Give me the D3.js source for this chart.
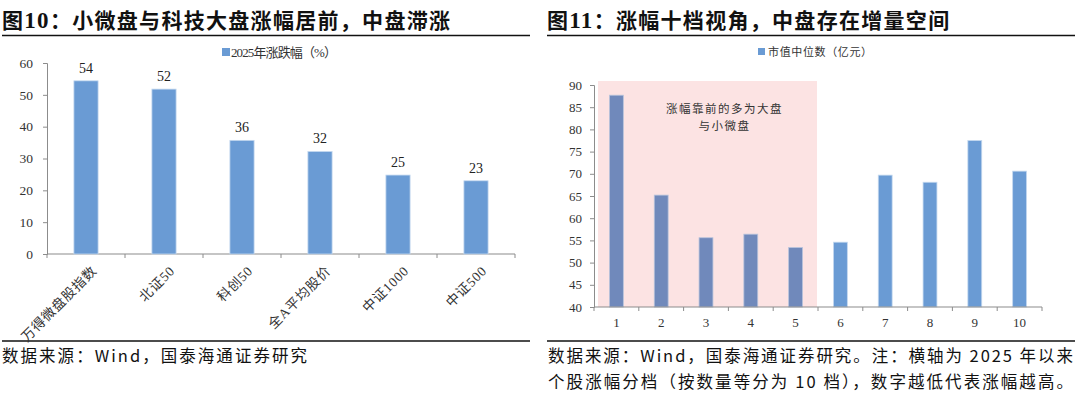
<!DOCTYPE html>
<html><head><meta charset="utf-8">
<script src="https://cdn.jsdelivr.net/npm/d3@7"></script>
<style>
body{margin:0;background:#fff;}
svg{display:block;}
</style></head>
<body>
<svg id="c" width="1080" height="393"></svg>
<script>
// ---- data ----
const leftTitle = "图10：小微盘与科技大盘涨幅居前，中盘滞涨";
const leftLegend = "2025年涨跌幅（%）";
const leftCats = ["万得微盘股指数","北证50","科创50","全A平均股价","中证1000","中证500"];
const leftVals = [54.4, 51.8, 35.7, 32.2, 24.8, 23.0];
const leftLabels = ["54","52","36","32","25","23"];
const leftTicks = [0,10,20,30,40,50,60];
const leftSource = "数据来源：Wind，国泰海通证券研究";

const rightTitle = "图11：涨幅十档视角，中盘存在增量空间";
const rightLegend = "市值中位数（亿元）";
const rightCats = ["1","2","3","4","5","6","7","8","9","10"];
const rightVals = [87.7, 65.2, 55.6, 56.4, 53.4, 54.6, 69.7, 68.1, 77.5, 70.6];
const rightTicks = [40,45,50,55,60,65,70,75,80,85,90];
const highlightCats = ["1","2","3","4","5"];
const noteLines = ["涨幅靠前的多为大盘","与小微盘"];
const rightSource = ["数据来源：Wind，国泰海通证券研究。注：横轴为 2025 年以来",
                     "个股涨幅分档（按数量等分为 10 档），数字越低代表涨幅越高。"];

const SERIF = "'Liberation Serif','Times New Roman','Noto Sans CJK SC',serif";
const CJK = "'Noto Sans CJK SC','Liberation Serif',sans-serif";
const BAR = "#6a9bd4", BAR_HL = "#7089bb", PINK = "#fce3e3", AX = "#8c8c8c";

const svg = d3.select("#c");

function header(x0, x1, title){
  const parts = title.match(/^(图)(\d+)(.*)$/);
  const t = svg.append("text").attr("x", x0).attr("y", 28)
    .attr("font-size", 21).attr("font-weight", "bold").attr("fill", "#111")
    .attr("letter-spacing", 1.3);
  t.append("tspan").attr("font-family", CJK).text(parts[1]);
  t.append("tspan").attr("font-family", SERIF).attr("font-size", 23).text(parts[2]);
  t.append("tspan").attr("font-family", CJK).text(parts[3]);
  svg.append("line").attr("x1", x0).attr("x2", x1).attr("y1", 35.5).attr("y2", 35.5)
    .attr("stroke", "#111").attr("stroke-width", 1.5);
  svg.append("line").attr("x1", x0).attr("x2", x1).attr("y1", 341).attr("y2", 341)
    .attr("stroke", "#111").attr("stroke-width", 1.5);
}

// ===== LEFT CHART =====
header(2, 530, leftTitle);
{
  const x = d3.scaleBand().domain(leftCats).range([47, 515]).paddingInner(0.69).paddingOuter(0.345);
  const y = d3.scaleLinear().domain([0, 60]).range([254, 63]);
  const g = svg.append("g");
  // legend
  const lg = g.append("g");
  lg.append("rect").attr("x", 222).attr("y", 48).attr("width", 8).attr("height", 8).attr("fill", BAR);
  lg.append("text").attr("x", 231).attr("y", 57).attr("font-size", 13).attr("fill", "#333")
    .attr("font-family", SERIF).attr("textLength", 106).attr("lengthAdjust", "spacing").text(leftLegend);
  // y axis
  const ya = g.append("g").attr("transform", "translate(47,0)")
    .call(d3.axisLeft(y).tickValues(leftTicks).tickSize(4).tickPadding(10));
  ya.select(".domain").attr("stroke", AX);
  ya.selectAll(".tick line").attr("stroke", AX);
  ya.selectAll("text").attr("font-family", SERIF).attr("font-size", 13.5).attr("fill", "#333");
  // x axis
  const xa = g.append("g").attr("transform", "translate(0,254)");
  xa.append("line").attr("x1", 47).attr("x2", 515).attr("stroke", AX).attr("stroke-width", 1.2);
  const bounds = leftCats.map(c => x(c) - x.step()*x.paddingInner()/2).concat([515]);
  xa.selectAll("line.tk").data(bounds).join("line").attr("class","tk")
    .attr("x1", d => d).attr("x2", d => d).attr("y1", 0).attr("y2", 4).attr("stroke", AX);
  xa.selectAll("text").data(leftCats).join("text")
    .attr("transform", d => `translate(${x(d)+x.bandwidth()/2+5},${11}) rotate(-45)`)
    .attr("text-anchor", "end").attr("dy", "0.7em").attr("letter-spacing", 0.8)
    .attr("font-family", SERIF).attr("font-size", 13.5).attr("fill", "#333").text(d => d);
  // bars
  g.selectAll("rect.bar").data(leftCats).join("rect").attr("class","bar")
    .attr("x", d => x(d)).attr("width", x.bandwidth())
    .attr("y", (d,i) => y(leftVals[i])).attr("height", (d,i) => y(0) - y(leftVals[i]))
    .attr("fill", BAR).attr("stroke", "#c5d9ef").attr("stroke-width", 0.8);
  g.selectAll("text.val").data(leftCats).join("text").attr("class","val")
    .attr("x", d => x(d) + x.bandwidth()/2).attr("y", (d,i) => y(leftVals[i]) - 8)
    .attr("text-anchor", "middle").attr("font-family", SERIF).attr("font-size", 14).attr("fill", "#222")
    .text((d,i) => leftLabels[i]);
  svg.append("text").attr("x", 2).attr("y", 362).attr("font-size", 16.5).attr("font-family", CJK)
    .attr("fill", "#111").attr("textLength", 305).attr("lengthAdjust", "spacing").text(leftSource);
}

// ===== RIGHT CHART =====
header(547, 1075, rightTitle);
{
  const x = d3.scaleBand().domain(rightCats).range([594, 1042]).paddingInner(0.69).paddingOuter(0.345);
  const y = d3.scaleLinear().domain([40, 90]).range([307, 85]);
  const g = svg.append("g");
  // legend
  g.append("rect").attr("x", 758).attr("y", 48).attr("width", 7).attr("height", 7).attr("fill", BAR);
  g.append("text").attr("x", 768).attr("y", 56).attr("font-size", 11).attr("fill", "#333")
    .attr("font-family", CJK).attr("textLength", 104).attr("lengthAdjust", "spacing").text(rightLegend);
  // highlight region
  const hx0 = x(highlightCats[0]) - x.step()*x.paddingOuter() + 4;
  const hlast = highlightCats[highlightCats.length-1];
  const hx1 = x(hlast) + x.bandwidth() + x.step()*x.paddingInner()/2 - 1;
  g.append("rect").attr("x", hx0).attr("y", 81).attr("width", hx1 - hx0).attr("height", 307 - 81)
    .attr("fill", PINK);
  noteLines.forEach((s, i) => {
    g.append("text").attr("x", (hx0+hx1)/2 + 17).attr("y", 113 + i*17).attr("text-anchor", "middle")
      .attr("font-family", CJK).attr("font-size", 11.5).attr("letter-spacing", 1.5).attr("fill", "#333").text(s);
  });
  // y axis
  const ya = g.append("g").attr("transform", "translate(594,0)")
    .call(d3.axisLeft(y).tickValues(rightTicks).tickSize(4).tickPadding(8));
  ya.select(".domain").attr("stroke", AX);
  ya.selectAll(".tick line").attr("stroke", AX);
  ya.selectAll("text").attr("font-family", SERIF).attr("font-size", 13).attr("fill", "#333");
  // bars
  g.selectAll("rect.bar").data(rightCats).join("rect").attr("class","bar")
    .attr("x", d => x(d)).attr("width", x.bandwidth())
    .attr("y", (d,i) => y(rightVals[i])).attr("height", (d,i) => y(40) - y(rightVals[i]))
    .attr("fill", d => highlightCats.includes(d) ? BAR_HL : BAR)
    .attr("stroke", d => highlightCats.includes(d) ? "#b8c4dc" : "#c5d9ef").attr("stroke-width", 0.8);
  // x axis
  const xa = g.append("g").attr("transform", "translate(0,307)");
  xa.append("line").attr("x1", 594).attr("x2", 1042).attr("stroke", AX).attr("stroke-width", 1.2);
  const bounds = rightCats.map(c => x(c) - x.step()*x.paddingInner()/2).concat([1042]);
  xa.selectAll("line.tk").data(bounds).join("line").attr("class","tk")
    .attr("x1", d => d).attr("x2", d => d).attr("y1", 0).attr("y2", 4).attr("stroke", AX);
  xa.selectAll("text").data(rightCats).join("text")
    .attr("x", d => x(d) + x.bandwidth()/2).attr("y", 20).attr("text-anchor", "middle")
    .attr("font-family", SERIF).attr("font-size", 13).attr("fill", "#333").text(d => d);
  rightSource.forEach((s, i) => {
    svg.append("text").attr("x", 548).attr("y", 362 + i*26).attr("font-size", 16.5).attr("font-family", CJK)
      .attr("fill", "#111").attr("textLength", 525).attr("lengthAdjust", "spacing").text(s);
  });
}
</script>
</body></html>
